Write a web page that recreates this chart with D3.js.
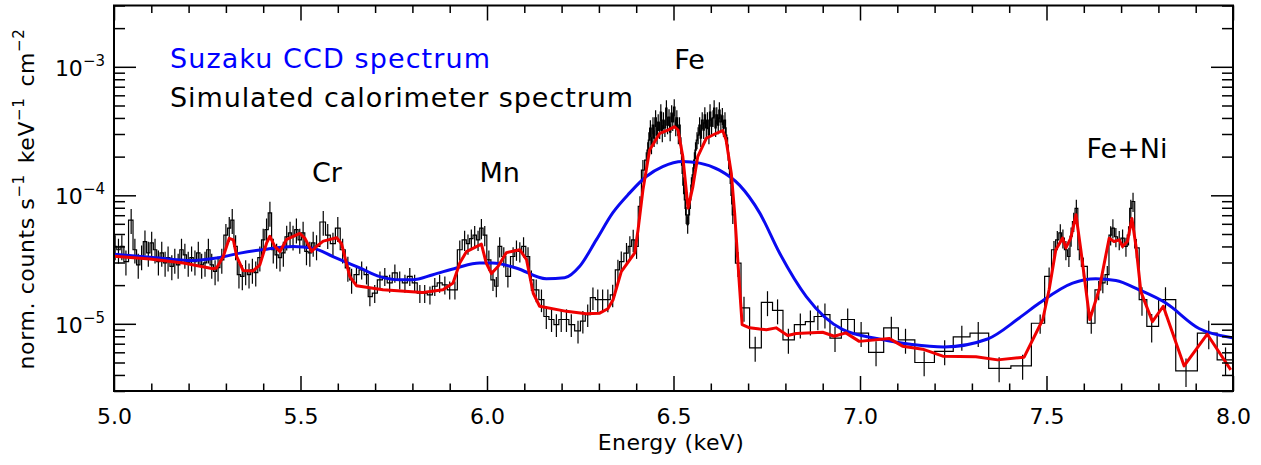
<!DOCTYPE html>
<html><head><meta charset="utf-8">
<script src="https://cdn.jsdelivr.net/npm/d3@7/dist/d3.min.js"></script>
<style>
body{margin:0;background:#fff}
text{font-family:"DejaVu Sans",sans-serif;fill:#000}
</style>
</head><body>
<svg id="c" width="1261" height="465"></svg>
<script>
// ---------------- data ----------------
const xTickValues = [5.0, 5.5, 6.0, 6.5, 7.0, 7.5, 8.0];
const xTickLabels = ["5.0", "5.5", "6.0", "6.5", "7.0", "7.5", "8.0"];
const yTickExps = [-5, -4, -3];
const legendLabels = ["Suzaku CCD spectrum", "Simulated calorimeter spectrum"];
const lineNames = ["Cr", "Mn", "Fe", "Fe+Ni"];
const lineE = [5.571, 6.034, 6.543, 7.716];
const lineLevel = [1.27e-4, 1.27e-4, 9.7e-4, 1.95e-4];

// Suzaku CCD model (blue)
const ccdE = [5.000,5.096,5.212,5.275,5.338,5.409,5.480,5.533,5.587,5.659,5.713,5.766,5.801,5.855,5.918,5.980,6.015,6.078,6.159,6.208,6.248,6.293,6.337,6.382,6.427,6.471,6.524,6.570,6.623,6.677,6.731,6.784,6.856,6.954,7.052,7.140,7.226,7.342,7.427,7.481,7.570,7.632,7.686,7.748,7.820,7.909,7.998];
const ccdV = [3.48e-5,3.30e-5,3.11e-5,3.25e-5,3.55e-5,3.81e-5,4.0e-5,3.88e-5,3.34e-5,2.72e-5,2.33e-5,2.20e-5,2.20e-5,2.41e-5,2.72e-5,2.97e-5,2.97e-5,2.72e-5,2.24e-5,2.28e-5,2.79e-5,4.5e-5,7.3e-5,1.04e-4,1.40e-4,1.67e-4,1.83e-4,1.78e-4,1.57e-4,1.2e-4,7.3e-5,3.57e-5,1.63e-5,9.0e-6,7.62e-6,6.89e-6,6.61e-6,7.62e-6,1.11e-5,1.45e-5,2.07e-5,2.24e-5,2.17e-5,1.84e-5,1.45e-5,9.2e-6,7.8e-6];

// calorimeter model (red)
const calE = [5.000,5.096,5.186,5.266,5.275,5.293,5.309,5.320,5.329,5.346,5.373,5.391,5.409,5.418,5.431,5.445,5.463,5.498,5.512,5.530,5.543,5.561,5.597,5.610,5.632,5.650,5.721,5.828,5.882,5.909,5.927,5.945,5.985,5.998,6.012,6.030,6.052,6.088,6.106,6.124,6.141,6.213,6.266,6.302,6.324,6.338,6.360,6.396,6.405,6.418,6.436,6.463,6.485,6.503,6.512,6.525,6.539,6.552,6.565,6.588,6.615,6.632,6.641,6.655,6.664,6.677,6.684,6.704,6.731,6.749,6.775,6.806,6.829,6.900,6.931,6.962,6.998,7.078,7.114,7.168,7.222,7.311,7.369,7.440,7.490,7.507,7.525,7.543,7.552,7.565,7.579,7.592,7.616,7.641,7.668,7.681,7.695,7.704,7.717,7.729,7.740,7.753,7.784,7.813,7.869,7.931,7.994];
const calV = [3.36e-5,3.19e-5,2.97e-5,2.68e-5,2.72e-5,3.34e-5,4.63e-5,4.5e-5,3.34e-5,2.6e-5,2.58e-5,2.88e-5,4.24e-5,4.8e-5,4.0e-5,3.65e-5,4.55e-5,5.05e-5,4.62e-5,3.66e-5,4.0e-5,4.4e-5,4.67e-5,4.2e-5,2.34e-5,1.98e-5,1.84e-5,1.75e-5,1.84e-5,2.08e-5,2.97e-5,3.65e-5,4.17e-5,2.97e-5,2.46e-5,2.80e-5,3.58e-5,3.77e-5,3.15e-5,1.73e-5,1.37e-5,1.25e-5,1.2e-5,1.21e-5,1.31e-5,1.54e-5,2.55e-5,3.56e-5,5.4e-5,1.10e-4,2.25e-4,3.03e-4,3.22e-4,3.42e-4,3.22e-4,2.0e-4,7.95e-5,1.17e-4,2.0e-4,2.78e-4,3.04e-4,3.19e-4,2.69e-4,1.48e-4,7.25e-5,1.95e-5,9.87e-6,9.3e-6,9.1e-6,9.0e-6,9.3e-6,8.1e-6,8.4e-6,8.6e-6,8.0e-6,8.5e-6,7.3e-6,7.7e-6,6.7e-6,6.35e-6,5.6e-6,5.55e-6,5.24e-6,5.5e-6,1.08e-5,1.84e-5,3.77e-5,4.64e-5,3.9e-5,4.64e-5,7.05e-5,3.77e-5,1.08e-5,1.84e-5,4.64e-5,4.37e-5,4.5e-5,4.0e-5,4.37e-5,6.6e-5,4.0e-5,1.78e-5,1.04e-5,1.37e-5,4.7e-6,8.3e-6,4.38e-6];

// simulated calorimeter data (black): bin centres and values
const simE = [
5.003,5.012,5.021,5.032,5.046,5.056,5.065,5.074,5.083,5.092,5.101,5.110,5.119,5.128,5.137,5.145,5.155,5.163,5.172,5.181,5.190,5.199,5.208,5.217,5.226,5.235,5.244,5.253,5.262,5.271,5.279,5.289,5.300,5.309,5.317,5.326,5.335,5.344,5.353,5.362,5.371,5.380,5.391,5.400,5.409,5.418,5.427,5.436,5.445,5.454,5.463,5.472,5.480,5.489,5.498,5.507,5.516,5.525,5.534,5.543,
5.561,5.573,5.587,5.600,5.613,5.627,5.637,5.650,5.664,5.677,5.686,5.699,5.713,5.726,5.739,5.753,5.766,5.780,5.793,5.806,5.820,5.833,5.847,5.860,5.873,5.887,5.900,5.914,5.927,5.940,5.949,5.958,5.967,5.976,5.985,5.994,6.005,6.016,6.025,6.034,6.045,6.056,6.070,6.079,6.088,6.098,6.110,6.119,6.132,6.146,6.159,6.173,6.186,6.199,6.213,6.226,6.244,
6.257,6.270,6.284,6.297,6.310,6.324,6.337,6.351,6.360,6.374,6.383,6.392,6.401,6.410,6.418,
6.427,6.431,6.434,6.438,6.441,6.445,6.448,6.452,6.456,6.459,6.463,6.466,6.470,6.473,6.477,6.481,6.484,6.488,6.491,6.495,6.498,6.502,6.506,6.509,6.513,6.516,6.520,6.523,6.527,6.531,6.534,6.538,6.541,6.545,6.548,6.552,6.556,6.559,6.563,6.566,6.570,6.573,6.577,6.581,6.584,6.588,6.591,6.595,6.598,6.602,6.606,6.609,6.613,6.616,6.620,6.623,6.627,6.631,6.634,6.638,6.641,6.645,6.648,6.652,6.656,6.659,
6.673,6.689,6.719,6.752,6.779,6.808,6.840,6.867,6.887,6.906,6.933,6.967,7.003,7.043,7.084,7.122,7.172,7.227,7.273,7.317,7.373,7.436,
7.483,7.507,7.520,7.529,7.537,7.544,7.552,7.560,7.566,7.573,7.580,7.588,7.599,7.620,7.640,7.651,7.663,7.672,7.678,7.686,7.695,7.704,7.713,7.720,7.726,7.732,7.741,7.756,7.782,7.819,7.874,7.935,7.980];
const simV = [
4.0e-5,3.77e-5,4.0e-5,3.05e-5,6.4e-5,3.77e-5,2.88e-5,3.34e-5,4.36e-5,3.57e-5,4.26e-5,3.77e-5,3.05e-5,3.57e-5,2.98e-5,3.27e-5,2.8e-5,3.15e-5,2.88e-5,3.77e-5,3.44e-5,2.98e-5,3.27e-5,3.05e-5,3.57e-5,2.88e-5,2.98e-5,3.77e-5,2.88e-5,2.56e-5,2.74e-5,3.15e-5,4.9e-5,5.56e-5,6.4e-5,4.0e-5,2.41e-5,2.34e-5,2.56e-5,2.41e-5,2.63e-5,2.5e-5,3.27e-5,4.5e-5,5.4e-5,7.3e-5,3.77e-5,3.44e-5,3.27e-5,3.57e-5,4.76e-5,5.1e-5,4.76e-5,5.4e-5,4.5e-5,5.1e-5,3.66e-5,3.57e-5,4.26e-5,4.0e-5,
6.2e-5,4.9e-5,4.2e-5,5.55e-5,3.77e-5,2.72e-5,2.2e-5,2.41e-5,2.63e-5,2.41e-5,1.63e-5,1.73e-5,2.2e-5,2.34e-5,2.08e-5,2.49e-5,2.2e-5,2.08e-5,2.34e-5,2.08e-5,1.73e-5,1.73e-5,1.68e-5,1.96e-5,2.08e-5,2.01e-5,1.84e-5,1.84e-5,3.77e-5,4.5e-5,4.2e-5,4.6e-5,4.9e-5,4.5e-5,5.55e-5,4.9e-5,3.15e-5,2.2e-5,1.96e-5,4.0e-5,3.34e-5,2.34e-5,3.34e-5,3.77e-5,3.66e-5,4.0e-5,3.34e-5,2.2e-5,1.84e-5,1.54e-5,1.14e-5,1.08e-5,9.87e-6,1.08e-5,1.08e-5,9.87e-6,8.8e-6,
1.05e-5,1.18e-5,1.6e-5,1.54e-5,1.54e-5,1.54e-5,1.68e-5,2.63e-5,3.05e-5,3.55e-5,4.0e-5,4.5e-5,4.0e-5,8.2e-5,1.57e-4,
1.88e-4,2.25e-4,2.69e-4,3.34e-4,2.46e-4,3.52e-4,2.79e-4,4.0e-4,2.94e-4,3.72e-4,3.22e-4,4.45e-4,3.05e-4,3.85e-4,3.34e-4,4.77e-4,3.52e-4,4.07e-4,3.1e-4,4.37e-4,3.72e-4,4.86e-4,3.39e-4,4.0e-4,2.94e-4,3.52e-4,2.46e-4,1.72e-4,1.2e-4,9.2e-5,7.05e-5,5.9e-5,7.05e-5,9.2e-5,1.2e-4,1.44e-4,1.88e-4,2.25e-4,2.69e-4,2.94e-4,3.52e-4,2.79e-4,3.85e-4,3.22e-4,4.22e-4,3.34e-4,3.85e-4,2.94e-4,4.45e-4,3.46e-4,4.0e-4,4.77e-4,3.34e-4,4.22e-4,3.52e-4,4.61e-4,3.72e-4,4.15e-4,3.34e-4,3.85e-4,2.94e-4,2.46e-4,1.88e-4,1.44e-4,1.0e-4,7.05e-5,
2.97e-5,1.33e-5,6.5e-6,1.47e-5,1.27e-5,7.5e-6,9.87e-6,1.04e-5,1.14e-5,1.18e-5,7.75e-6,1.08e-5,8.45e-6,6.0e-6,9.3e-6,7.5e-6,5.0e-6,6.1e-6,7.9e-6,8.45e-6,4.5e-6,4.7e-6,
1.01e-5,2.34e-5,3.77e-5,4.5e-5,5.1e-5,4.64e-5,3.77e-5,3.34e-5,4.8e-5,6.25e-5,7.9e-5,3.77e-5,2.8e-5,1.01e-5,1.84e-5,2.08e-5,2.41e-5,4.9e-5,5.56e-5,4.76e-5,4.5e-5,4.64e-5,4.0e-5,4.9e-5,7.9e-5,8.95e-5,3.9e-5,1.54e-5,9.55e-6,1.54e-5,4.3e-6,8.45e-6,5.24e-6];

// relative 1-sigma error of the simulated data, by energy band
const errEdges = [5.0, 5.65, 5.92, 6.12, 6.42, 6.665, 7.46, 7.75, 8.05];
const errFrac = [0.22, 0.16, 0.18, 0.20, 0.15, 0.22, 0.17, 0.25];

// ---------------- chart ----------------
const L = 114, R = 1233, T = 5.5, B = 391;
const x = d3.scaleLinear().domain([5, 8]).range([L, R]);
const y = d3.scaleLog().domain([3e-6, 3e-3]).range([B, T]);
const svg = d3.select("#c");

svg.append("defs").append("clipPath").attr("id", "clip")
  .append("rect").attr("x", L).attr("y", T).attr("width", R - L).attr("height", B - T);
const plot = svg.append("g").attr("clip-path", "url(#clip)");

// black histogram
const n = simE.length;
const edges = [simE[0] - (simE[1] - simE[0]) / 2];
for (let i = 0; i < n - 1; i++) edges.push((simE[i] + simE[i + 1]) / 2);
edges.push(simE[n - 1] + (simE[n - 1] - simE[n - 2]) / 2);
const stepPts = simV.map((v, i) => [edges[i], v]);
stepPts.push([edges[n], simV[n - 1]]);
plot.append("path")
  .attr("d", d3.line().x(d => x(d[0])).y(d => y(d[1])).curve(d3.curveStepAfter)(stepPts))
  .attr("fill", "none").attr("stroke", "#000").attr("stroke-width", 1.2);
plot.append("g").selectAll("line").data(simE).join("line")
  .attr("x1", d => x(d)).attr("x2", d => x(d))
  .attr("y1", (d, i) => { const f = errFrac[Math.max(0, d3.bisectRight(errEdges, d) - 1)]; return y(simV[i] * (1 + f)); })
  .attr("y2", (d, i) => { const f = errFrac[Math.max(0, d3.bisectRight(errEdges, d) - 1)]; return y(simV[i] * (1 - f)); })
  .attr("stroke", "#000").attr("stroke-width", 1.2);

// blue CCD model
plot.append("path")
  .attr("d", d3.line().x((d, i) => x(ccdE[i])).y(d => y(d)).curve(d3.curveMonotoneX)(ccdV))
  .attr("fill", "none").attr("stroke", "#0a0af0").attr("stroke-width", 3);
// red calorimeter model
plot.append("path")
  .attr("d", d3.line().x((d, i) => x(calE[i])).y(d => y(d))(calV))
  .attr("fill", "none").attr("stroke", "#f00000").attr("stroke-width", 3).attr("stroke-linejoin", "round");

// axes
const minorX = d3.range(50, 81).map(k => k / 10).filter(v => !xTickValues.some(t => Math.abs(t - v) < 1e-9));
const majorY = yTickExps.map(e => Math.pow(10, e));
const minorY = [];
[-6, -5, -4, -3].forEach(e => { for (let k = 2; k <= 9; k++) { const v = k * Math.pow(10, e); if (v >= 3e-6 && v <= 3e-3) minorY.push(v); } });

function styleAxis(g) {
  g.select(".domain").remove();
  g.selectAll("line").attr("stroke", "#000").attr("stroke-width", 1.5);
}
svg.append("g").attr("transform", `translate(0,${B})`)
  .call(d3.axisBottom(x).tickValues(xTickValues).tickSize(-15).tickPadding(17)
    .tickFormat((d, i) => xTickLabels[i]))
  .call(styleAxis)
  .call(g => g.selectAll("text").attr("font-size", 22).attr("font-family", "DejaVu Sans").attr("fill", "#000"));
svg.append("g").attr("transform", `translate(0,${B})`)
  .call(d3.axisBottom(x).tickValues(minorX).tickSize(-7.5).tickFormat("")).call(styleAxis);
svg.append("g").attr("transform", `translate(0,${T})`)
  .call(d3.axisTop(x).tickValues(xTickValues).tickSize(-15).tickFormat("")).call(styleAxis);
svg.append("g").attr("transform", `translate(0,${T})`)
  .call(d3.axisTop(x).tickValues(minorX).tickSize(-7.5).tickFormat("")).call(styleAxis);
svg.append("g").attr("transform", `translate(${L},0)`)
  .call(d3.axisLeft(y).tickValues(majorY).tickSize(-22).tickFormat("")).call(styleAxis);
svg.append("g").attr("transform", `translate(${L},0)`)
  .call(d3.axisLeft(y).tickValues(minorY).tickSize(-11).tickFormat("")).call(styleAxis);
svg.append("g").attr("transform", `translate(${R},0)`)
  .call(d3.axisRight(y).tickValues(majorY).tickSize(-22).tickFormat("")).call(styleAxis);
svg.append("g").attr("transform", `translate(${R},0)`)
  .call(d3.axisRight(y).tickValues(minorY).tickSize(-11).tickFormat("")).call(styleAxis);

// frame
svg.append("rect").attr("x", L).attr("y", T).attr("width", R - L).attr("height", B - T)
  .attr("fill", "none").attr("stroke", "#000").attr("stroke-width", 2);

// y tick labels 10^n
yTickExps.forEach(e => {
  const t = svg.append("text").attr("x", 105).attr("y", y(Math.pow(10, e)) + 9)
    .attr("text-anchor", "end").attr("font-size", 22);
  t.append("tspan").text("10");
  t.append("tspan").attr("font-size", 15).attr("dy", -10).text("\u2212" + Math.abs(e));
});

// axis titles
svg.append("text").attr("x", 671).attr("y", 450).attr("text-anchor", "middle")
  .attr("font-size", 22).style("letter-spacing", "0.4px").text("Energy (keV)");
const yt = svg.append("text").attr("transform", "translate(34,199) rotate(-90)")
  .attr("text-anchor", "middle").attr("font-size", 22).style("letter-spacing", "0.6px");
yt.append("tspan").text("norm. counts s");
yt.append("tspan").attr("font-size", 15).attr("dy", -10).text("\u22121");
yt.append("tspan").attr("dy", 10).attr("dx", 11).text("keV");
yt.append("tspan").attr("font-size", 15).attr("dy", -10).text("\u22121");
yt.append("tspan").attr("dy", 10).attr("dx", 11).text("cm");
yt.append("tspan").attr("font-size", 15).attr("dy", -10).text("\u22122");

// legend
svg.append("text").attr("x", 170).attr("y", 68).attr("font-size", 27).attr("fill", "#0000ff")
  .style("fill", "#0000ff").attr("textLength", 320).attr("lengthAdjust", "spacing").text(legendLabels[0]);
svg.append("text").attr("x", 170).attr("y", 107).attr("font-size", 27)
  .attr("textLength", 463).attr("lengthAdjust", "spacing").text(legendLabels[1]);

// line labels
lineNames.forEach((nm, i) => {
  svg.append("text").attr("x", x(lineE[i])).attr("y", y(lineLevel[i]))
    .attr("text-anchor", "middle").attr("font-size", 27).text(nm);
});
</script>
</body></html>
